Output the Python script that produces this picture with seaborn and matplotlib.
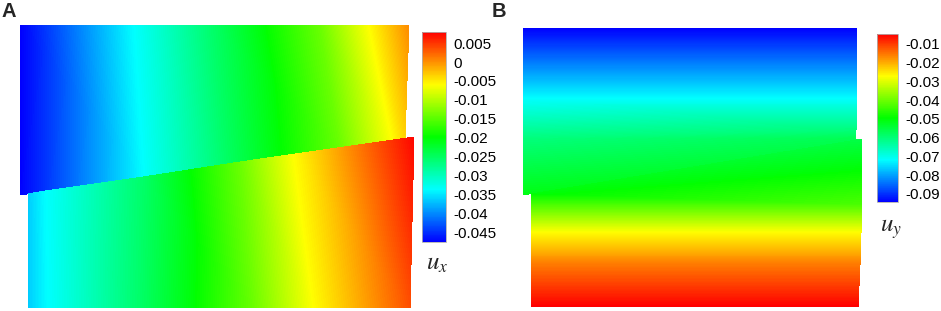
import numpy as np
import matplotlib
matplotlib.use("Agg")
import matplotlib.pyplot as plt
import matplotlib.tri as mtri
from matplotlib.colors import Normalize
from matplotlib.cm import ScalarMappable
import seaborn as sns

# ---------------- data (model coordinates of mesh nodes and nodal values) ----------------
# Panel A: horizontal displacement u_x, nodes along top / bottom edge of each block
UX_UPPER_TOP_X = [1, 113, 193, 300, 350, 389]
UX_UPPER_TOP_Y = [283, 283, 283, 283, 283, 283]
UX_UPPER_TOP_V = [-0.0474, -0.0336, -0.0253, -0.0142, -0.0059, 0.0002]
UX_UPPER_BOT_X = [0, 123, 205, 320, 373, 385]
UX_UPPER_BOT_Y = [113, 131, 143, 160, 168, 170]
UX_UPPER_BOT_V = [-0.0474, -0.0336, -0.0253, -0.0142, -0.0059, -0.0037]

UX_LOWER_TOP_X = [8, 25, 123, 220, 275, 394]
UX_LOWER_TOP_Y = [114, 117, 131, 146, 154, 171]
UX_LOWER_TOP_V = [-0.0363, -0.0336, -0.0253, -0.0142, -0.0059, 0.0075]
UX_LOWER_BOT_X = [8, 27, 120, 233, 295, 390]
UX_LOWER_BOT_Y = [0, 0, 0, 0, 0, 0]
UX_LOWER_BOT_V = [-0.0363, -0.0336, -0.0253, -0.0142, -0.0059, 0.0035]

UX_RANGE = [-0.0474, 0.0079]
UX_TICKS = [0.005, 0, -0.005, -0.01, -0.015, -0.02, -0.025, -0.03, -0.035, -0.04, -0.045]
UX_TICKLABELS = ["0.005", "0", "-0.005", "-0.01", "-0.015", "-0.02", "-0.025",
                 "-0.03", "-0.035", "-0.04", "-0.045"]

# Panel B: vertical displacement u_y, nodes along left / right edge of each block
UY_UPPER_LEFT_X = [0, 0, 0, 0]
UY_UPPER_LEFT_Y = [279, 209, 168, 112]
UY_UPPER_LEFT_V = [-0.0943, -0.0719, -0.0602, -0.0510]
UY_UPPER_RIGHT_X = [334, 334, 333, 333]
UY_UPPER_RIGHT_Y = [279, 209, 177, 168]
UY_UPPER_RIGHT_V = [-0.0943, -0.0719, -0.0602, -0.0565]

UY_LOWER_LEFT_X = [8, 8, 8, 8, 8]
UY_LOWER_LEFT_Y = [113, 102, 74, 42, 0]
UY_LOWER_LEFT_V = [-0.0500, -0.0432, -0.0271, -0.0155, -0.0047]
UY_LOWER_RIGHT_X = [339, 339, 338, 337, 335]
UY_LOWER_RIGHT_Y = [168, 102, 74, 42, 0]
UY_LOWER_RIGHT_V = [-0.0555, -0.0432, -0.0271, -0.0155, -0.0047]

UY_RANGE = [-0.0943, -0.0047]
UY_TICKS = [-0.01, -0.02, -0.03, -0.04, -0.05, -0.06, -0.07, -0.08, -0.09]
UY_TICKLABELS = ["-0.01", "-0.02", "-0.03", "-0.04", "-0.05", "-0.06", "-0.07", "-0.08", "-0.09"]

# ---------------- style ----------------
sns.set_theme(style="white")
plt.rcParams["font.family"] = ["Liberation Sans", "DejaVu Sans"]
plt.rcParams["mathtext.fontset"] = "stix"

CMAP = sns.blend_palette(["#0000ff", "#00ffff", "#00ff00", "#ffff00", "#ff0000"], n_colors=256, as_cmap=True)

W, H = 941, 311
fig = plt.figure(figsize=(W / 100, H / 100), dpi=100)
fig.patch.set_facecolor("white")


def px_axes(left, bottom, width, height):
    return fig.add_axes([left / W, bottom / H, width / W, height / H])


def grid_block(ax, rows_x, rows_y, rows_v, rng):
    X = np.array(rows_x, dtype=float)
    Y = np.array(rows_y, dtype=float)
    V = np.array(rows_v, dtype=float)
    r, c = X.shape
    tris = []
    for i in range(r - 1):
        for j in range(c - 1):
            a = i * c + j
            b = a + 1
            d = (i + 1) * c + j
            e = d + 1
            tris.append([a, b, e])
            tris.append([a, e, d])
    tri = mtri.Triangulation(X.ravel(), Y.ravel(), np.array(tris))
    levels = np.linspace(rng[0], rng[1], 256)
    ax.tricontourf(tri, V.ravel(), levels=levels, cmap=CMAP, extend="both", antialiased=False)


# Panel A
axA = px_axes(15, 1, 410, 295)
axA.set_xlim(-5, 405)
axA.set_ylim(-2, 293)
grid_block(axA, [UX_UPPER_TOP_X, UX_UPPER_BOT_X], [UX_UPPER_TOP_Y, UX_UPPER_BOT_Y],
           [UX_UPPER_TOP_V, UX_UPPER_BOT_V], UX_RANGE)
grid_block(axA, [UX_LOWER_TOP_X, UX_LOWER_BOT_X], [UX_LOWER_TOP_Y, UX_LOWER_BOT_Y],
           [UX_LOWER_TOP_V, UX_LOWER_BOT_V], UX_RANGE)
axA.axis("off")

# Panel B
axB = px_axes(520, 2, 350, 295)
axB.set_xlim(-3, 347)
axB.set_ylim(-2, 293)
grid_block(axB, np.array([UY_UPPER_LEFT_X, UY_UPPER_RIGHT_X]).T,
           np.array([UY_UPPER_LEFT_Y, UY_UPPER_RIGHT_Y]).T,
           np.array([UY_UPPER_LEFT_V, UY_UPPER_RIGHT_V]).T, UY_RANGE)
grid_block(axB, np.array([UY_LOWER_LEFT_X, UY_LOWER_RIGHT_X]).T,
           np.array([UY_LOWER_LEFT_Y, UY_LOWER_RIGHT_Y]).T,
           np.array([UY_LOWER_LEFT_V, UY_LOWER_RIGHT_V]).T, UY_RANGE)
axB.axis("off")


def colorbar(left, top, width, height, rng, ticks, labels):
    cax = px_axes(left, H - top - height, width, height)
    sm = ScalarMappable(norm=Normalize(rng[0], rng[1]), cmap=CMAP)
    cb = fig.colorbar(sm, cax=cax)
    cb.set_ticks(ticks)
    cb.set_ticklabels(labels)
    cb.ax.tick_params(length=0, pad=5, labelsize=11, colors="black")
    cb.outline.set_edgecolor("#b0b0b0")
    cb.outline.set_linewidth(0.6)
    return cb


colorbar(422, 32, 24, 210, UX_RANGE, UX_TICKS, UX_TICKLABELS)
colorbar(877, 34, 21, 168, UY_RANGE, UY_TICKS, UY_TICKLABELS)

fig.text(426 / W, 1 - 263 / H, r"$u_x$", fontsize=18, va="center", ha="left")
fig.text(880 / W, 1 - 229 / H, r"$u_y$", fontsize=18, va="center", ha="left")

fig.text(1 / W, 1 - 2 / H, "A", fontsize=14.5, fontweight="bold", va="top", ha="left")
fig.text(492 / W, 1 - 2 / H, "B", fontsize=14.5, fontweight="bold", va="top", ha="left")

fig.savefig("out.png", dpi=100, facecolor="white")
